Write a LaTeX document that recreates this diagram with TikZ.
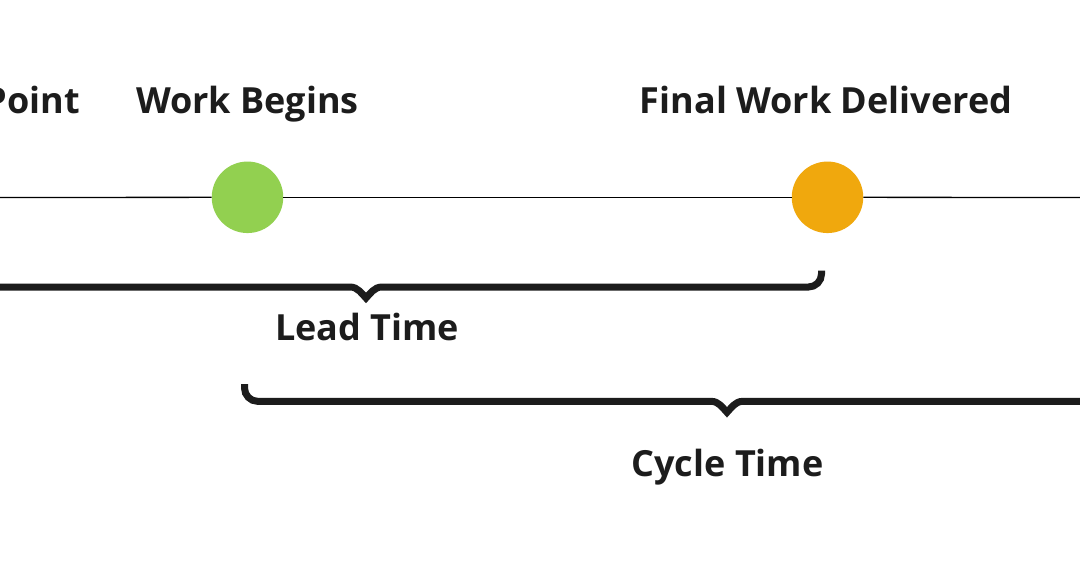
\documentclass[tikz,border=0pt]{standalone}
\usepackage{fontspec}
\setmainfont{Open Sans}
\definecolor{txt}{HTML}{1C1C1C}
\definecolor{wbgreen}{HTML}{92D050}
\definecolor{fdorange}{HTML}{F0A80D}
\begin{document}
\begin{tikzpicture}[x=1pt,y=-1pt,
  lbl/.style={font=\fontsize{36}{40}\selectfont\bfseries, text=txt, inner sep=0pt, anchor=base},
  dot/.style={circle, minimum size=71.5pt, inner sep=0pt, draw=none},
  timeline/.style={line width=1.3pt, black},
  bracepath/.style={line width=7pt, draw=txt, line join=miter, line cap=butt}]
\useasboundingbox (0,0) rectangle (1080,568);
\clip (0,0) rectangle (1080,568);
\fill[white] (0,0) rectangle (1080,568);
% timeline
\coordinate (tl) at (-5,197.5);
\coordinate (tr) at (1085,197.5);
\node[dot, fill=wbgreen] (wb) at (247.5,197.3) {};
\node[dot, fill=fdorange] (fd) at (827.5,197.3) {};
\draw[timeline] (tl) -- (wb);
\draw[timeline] (wb) -- (fd);
\draw[timeline] (fd) -- (tr);
% labels
\node[lbl, anchor=base east] (pt) at (80,113.3) {Point};
\node[lbl] (wbl) at (247.5,113.3) {Work Begins};
\node[lbl] (fdl) at (826,113.3) {Final Work Delivered};
\node[lbl] (lt) at (367,340.7) {Lead Time};
\node[lbl] (ct) at (727.5,476.7) {Cycle Time};
% lead time brace
\draw[bracepath] (-10,287) -- (350,287) .. controls (358,287) and (362,294) .. (366,298)
  .. controls (370,294) and (374,287) .. (382,287) -- (808.5,287)
  .. controls (815.7,287) and (821.5,281.2) .. (821.5,274) -- (821.5,270.5);
% cycle time brace
\draw[bracepath] (244.5,384) -- (244.5,388) .. controls (244.5,395.2) and (250.3,401.3) .. (257.5,401.3)
  -- (711,401.3) .. controls (719,401.3) and (723,408.3) .. (727,412.3)
  .. controls (731,408.3) and (735,401.3) .. (743,401.3) -- (1090,401.3);
\end{tikzpicture}
\end{document}
